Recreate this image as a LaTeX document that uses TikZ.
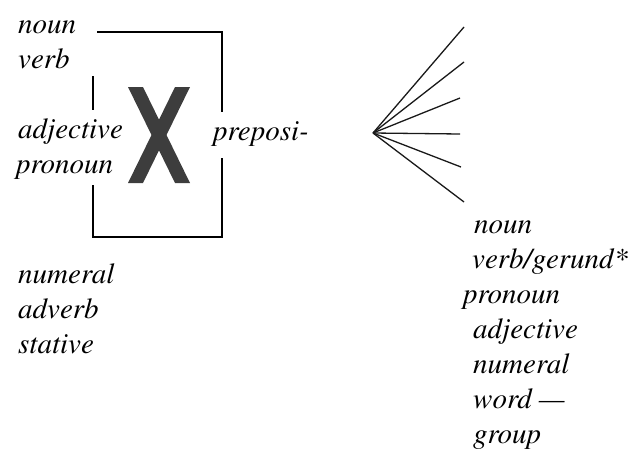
\documentclass[tikz,border=0pt]{standalone}
\usepackage[T1]{fontenc}
\usepackage{mathptmx}
\begin{document}
\begin{tikzpicture}[x=1pt,y=-1pt,
  word/.style={anchor=base west,inner sep=0pt,
    font=\fontencoding{T1}\fontfamily{ptm}\fontshape{it}\fontsize{29}{35}\selectfont},
  frame/.style={line width=1.1pt,black},
  ray/.style={line width=1.3pt,black!90},
  cross/.style={fill=black!76,draw=none}]
\useasboundingbox (0,0) rectangle (631,450);

% bracket around the X
\draw[frame] (97,32) -- (222,32) -- (222,112);
\draw[frame] (222,158) -- (222,237) -- (93,237) -- (93,185);
\draw[frame] (93,76) -- (93,110);

% the X mark
\fill[cross] (128,87) -- (143,87) -- (190,183) -- (175,183) -- cycle;
\fill[cross] (175,87) -- (190,87) -- (143,183) -- (128,183) -- cycle;

% left-hand words
\node[word] (n1) at (18,33) {noun};
\node[word] (n2) at (18,68) {verb};
\node[word] (n3) at (18,138) {adjective};
\node[word] (n4) at (16,173) {pronoun};
\node[word] (pr) at (213,140) {preposi-};
\node[word] (n5) at (18,283) {numeral};
\node[word] (n6) at (18,318) {adverb};
\node[word] (n7) at (18,353) {stative};

% fan of rays
\coordinate (hub) at (373,133);
\coordinate (e1) at (464,27);
\coordinate (e2) at (464,62);
\coordinate (e3) at (460,98);
\coordinate (e4) at (460,134);
\coordinate (e5) at (461,167);
\coordinate (e6) at (464,202);
\foreach \e in {e1,e2,e3,e4,e5,e6} \draw[ray] (hub) -- (\e);

% right-hand words
\node[word] (r1) at (474,233) {noun};
\node[word] (r2) at (472,268) {verb/gerund*};
\node[word] (r3) at (463,303) {pronoun};
\node[word] (r4) at (473,338) {adjective};
\node[word] (r5) at (473,373) {numeral};
\node[word] (r6) at (473,408) {word \textemdash};
\node[word] (r7) at (473,443) {group};
\end{tikzpicture}
\end{document}
